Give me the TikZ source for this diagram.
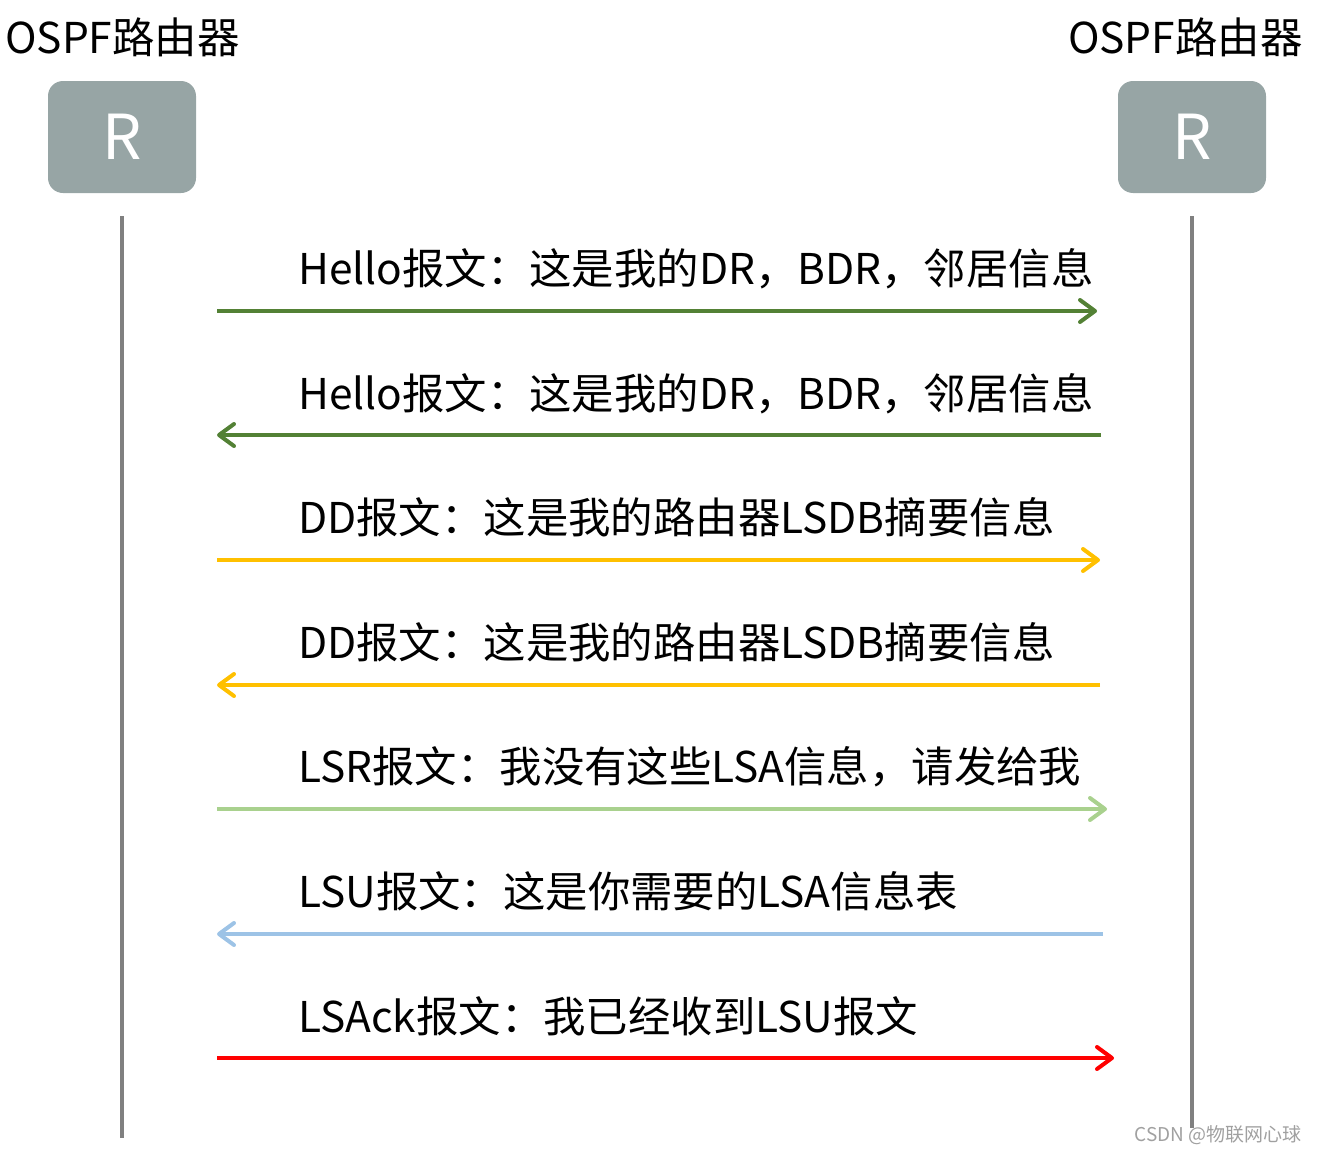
\documentclass[tikz,border=0pt]{standalone}
\usepackage{fontspec}
\setmainfont{Noto Sans CJK SC}
\usetikzlibrary{arrows.meta}
\definecolor{boxgray}{HTML}{97A5A5}
\definecolor{lifegray}{HTML}{808080}
\definecolor{dkgreen}{HTML}{538135}
\definecolor{amber}{HTML}{FFC000}
\definecolor{ltgreen}{HTML}{A9D18E}
\definecolor{ltblue}{HTML}{9DC3E6}
\definecolor{wmgray}{HTML}{A0A0A0}
\tikzset{
  router/.style={fill=boxgray, rounded corners=15pt, minimum width=148pt, minimum height=112pt, inner sep=0pt, text=white, font=\fontsize{62}{62}\selectfont},
  title/.style={font=\fontsize{42.5}{42.5}\selectfont, inner sep=0pt},
  lbl/.style={font=\fontsize{42.4}{42.4}\selectfont, inner sep=0pt, anchor=base west},
  life/.style={draw=lifegray, line width=4pt},
  msg/.style={line width=4pt, -{Straight Barb[length=15pt,width=22pt,line cap=round,line join=round]}},
}
\begin{document}
\begin{tikzpicture}[x=1pt,y=-1pt]
\useasboundingbox (0,0) rectangle (1318,1154);
\node[title, anchor=west] (tl) at (5,37) {OSPF路由器};
\node[title, anchor=east] (tr) at (1303,37) {OSPF路由器};
\node[router] (rl) at (122,137) {R};
\node[router] (rr) at (1192,137) {R};
\coordinate (l0) at (122,216); \coordinate (l1) at (122,1138);
\coordinate (r0) at (1192,216); \coordinate (r1) at (1192,1128);
\draw[life] (l0) -- (l1);
\draw[life] (r0) -- (r1);
% message endpoints
\coordinate (a1) at (217,311); \coordinate (b1) at (1097,311);
\coordinate (a2) at (1101,435); \coordinate (b2) at (217,435);
\coordinate (a3) at (217,560); \coordinate (b3) at (1100,560);
\coordinate (a4) at (1100,685); \coordinate (b4) at (217,685);
\coordinate (a5) at (217,809); \coordinate (b5) at (1107,809);
\coordinate (a6) at (1103,934); \coordinate (b6) at (217,934);
\coordinate (a7) at (217,1058); \coordinate (b7) at (1114,1058);
\draw[msg, draw=dkgreen] (a1) -- (b1);
\draw[msg, draw=dkgreen] (a2) -- (b2);
\draw[msg, draw=amber] (a3) -- (b3);
\draw[msg, draw=amber] (a4) -- (b4);
\draw[msg, draw=ltgreen] (a5) -- (b5);
\draw[msg, draw=ltblue] (a6) -- (b6);
\draw[msg, draw=red] (a7) -- (b7);
\node[lbl] (m1) at (298,284) {Hello报文：这是我的DR，BDR，邻居信息};
\node[lbl] (m2) at (298,409) {Hello报文：这是我的DR，BDR，邻居信息};
\node[lbl] (m3) at (298,533) {DD报文：这是我的路由器LSDB摘要信息};
\node[lbl] (m4) at (298,658) {DD报文：这是我的路由器LSDB摘要信息};
\node[lbl] (m5) at (298,782) {LSR报文：我没有这些LSA信息，请发给我};
\node[lbl] (m6) at (298,907) {LSU报文：这是你需要的LSA信息表};
\node[lbl] (m7) at (298,1032) {LSAck报文：我已经收到LSU报文};
\node[inner sep=0pt, anchor=east, text=wmgray, font=\fontsize{19}{19}\selectfont] (wm) at (1302,1135) {CSDN @物联网心球};
\end{tikzpicture}
\end{document}
